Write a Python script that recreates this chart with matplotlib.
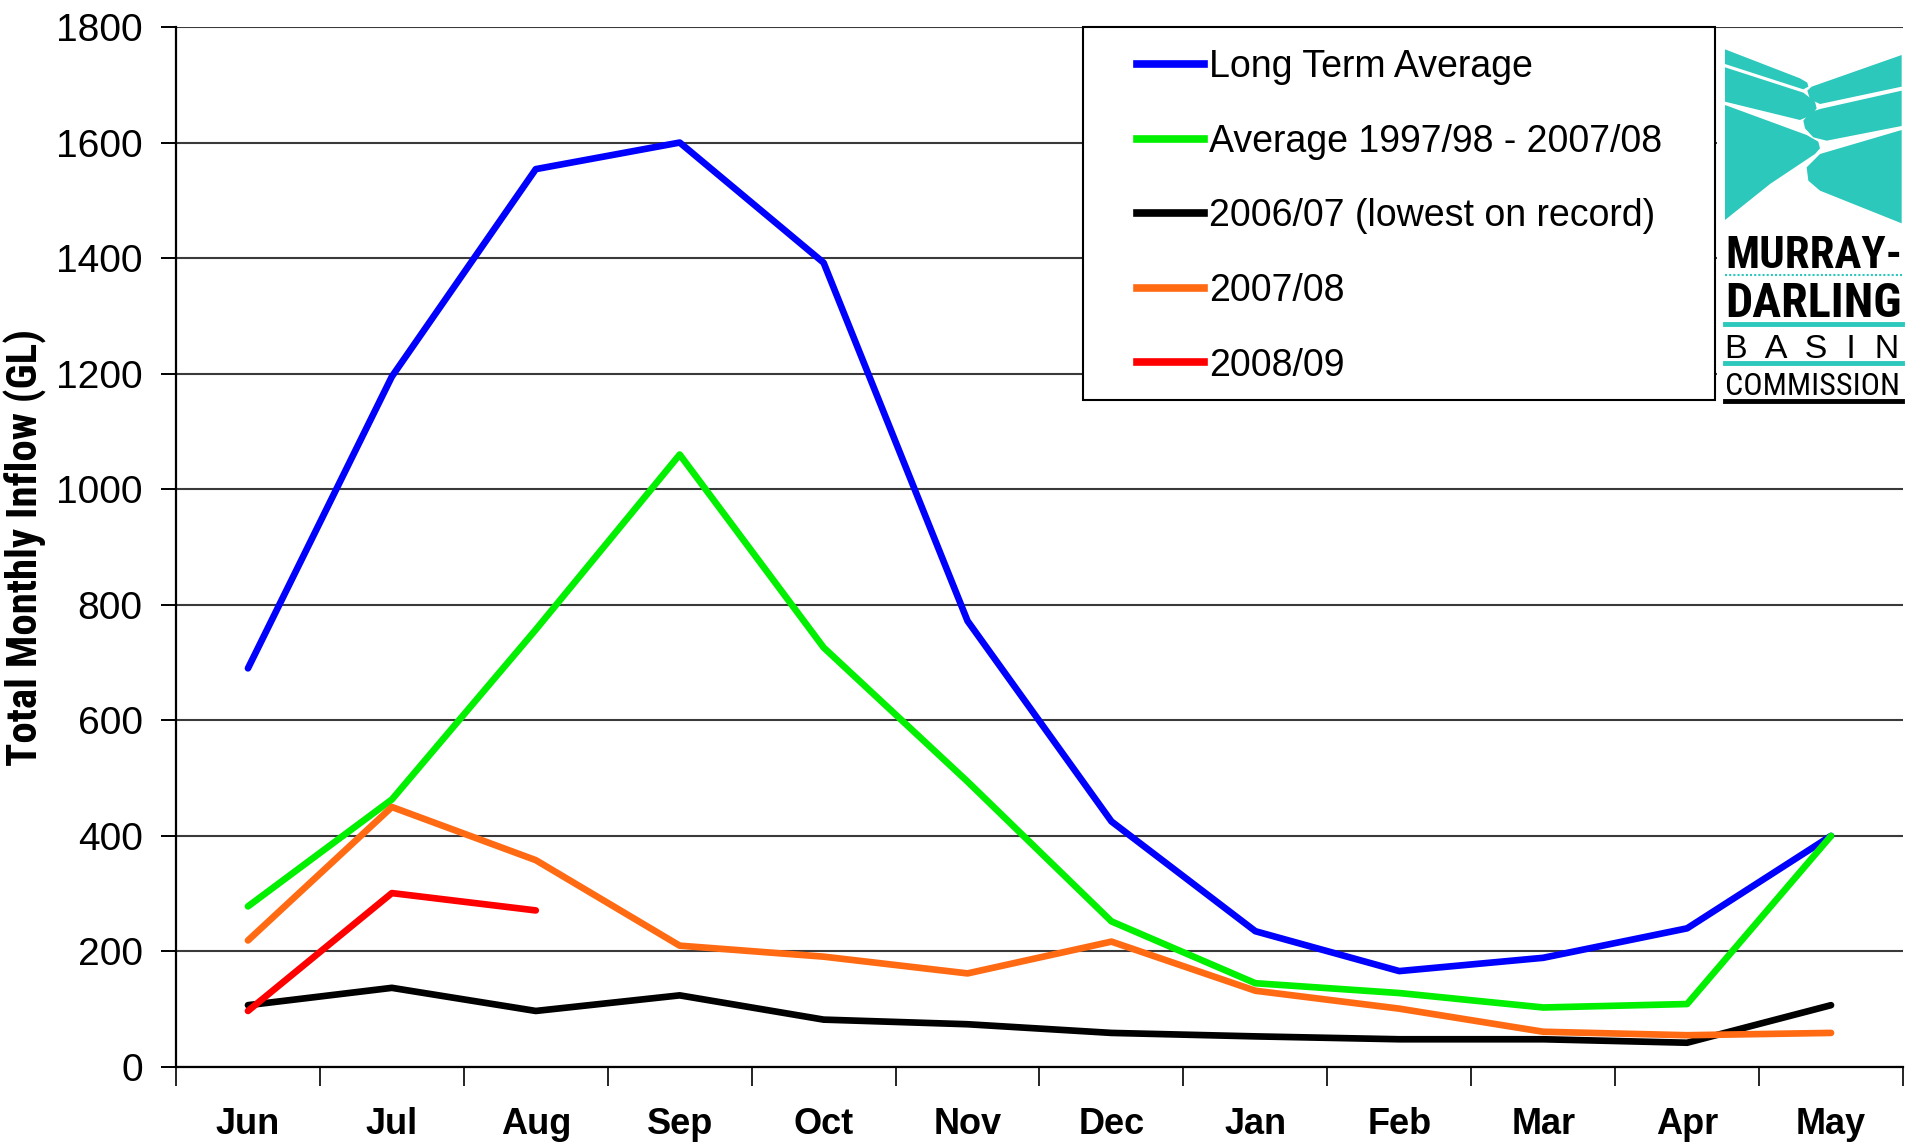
import numpy as np
import matplotlib
matplotlib.use("Agg")
import matplotlib.pyplot as plt
from matplotlib import font_manager
from matplotlib.patches import Rectangle, Polygon
from matplotlib.lines import Line2D

# ---------------- data ----------------
months = ["Jun", "Jul", "Aug", "Sep", "Oct", "Nov", "Dec", "Jan", "Feb", "Mar", "Apr", "May"]
long_term_avg = [690, 1195, 1554, 1600, 1392, 772, 425, 235, 166, 189, 240, 400]
avg_9798_0708 = [278, 463, 757, 1060, 726, 494, 252, 145, 128, 103, 109, 400]
y2006_07 = [107, 137, 97, 124, 82, 74, 59, 53, 48, 48, 42, 107]
y2007_08 = [219, 450, 358, 210, 191, 162, 217, 132, 101, 61, 55, 59]
y2008_09 = [97, 301, 271]
series_labels = ["Long Term Average", "Average 1997/98 - 2007/08",
                 "2006/07 (lowest on record)", "2007/08", "2008/09"]
yticks = list(range(0, 1801, 200))

colors = ["#0000FF", "#00F000", "#000000", "#FF6A13", "#FF0000"]

def has_font(name, stretch="normal"):
    try:
        fp = font_manager.FontProperties(family=name, stretch=stretch)
        font_manager.findfont(fp, fallback_to_default=False)
        return True
    except Exception:
        return False

BASE = "Liberation Sans" if has_font("Liberation Sans") else "DejaVu Sans"
NARROW = BASE
for cand in ["Liberation Sans Narrow", "Roboto Condensed", "Open Sans Condensed", "DejaVu Sans Condensed"]:
    if has_font(cand):
        NARROW = cand
        break
plt.rcParams["font.family"] = [BASE, "DejaVu Sans"]

W, H = 1906, 1143
fig = plt.figure(figsize=(W / 100, H / 100), dpi=100)
fig.patch.set_facecolor("white")

def fx(px):
    return px / W

def fy(py):
    return 1 - py / H

ax_left, ax_right, ax_top, ax_bottom = 176, 1903, 27, 1067
ax = fig.add_axes([fx(ax_left), fy(ax_bottom), fx(ax_right - ax_left), (ax_bottom - ax_top) / H])

x = np.arange(len(months))
series = [long_term_avg, avg_9798_0708, y2006_07, y2007_08, y2008_09]
for vals, c in zip(series, colors):
    ax.plot(x[:len(vals)], vals, color=c, lw=4.8, solid_joinstyle="round", solid_capstyle="round", zorder=3)

ax.set_xlim(-0.5, 11.5)
ax.set_ylim(0, 1800)
ax.set_yticks(yticks)
ax.set_yticklabels([str(v) for v in yticks], fontsize=28)
ax.yaxis.grid(True, color="#3a3a3a", lw=1.5)
ax.set_axisbelow(True)
ax.tick_params(axis="y", direction="out", length=11, width=1.4, pad=13, colors="black")

ax.set_xticks(np.arange(-0.5, 12, 1))
ax.set_xticklabels([])
ax.set_xticks(x, minor=True)
ax.set_xticklabels(months, minor=True, fontsize=26, fontweight="bold")
ax.tick_params(axis="x", which="major", direction="out", length=14, width=1.2)
ax.tick_params(axis="x", which="minor", length=0, pad=29)

for s in ["top", "right"]:
    ax.spines[s].set_visible(False)
ax.spines["left"].set_linewidth(1.6)
ax.spines["bottom"].set_linewidth(1.6)

ylab = ax.set_ylabel("Total Monthly Inflow (GL)", fontsize=28, fontweight="bold", family=[NARROW, BASE])
ax.yaxis.set_label_coords((25 - ax_left) / (ax_right - ax_left), 0.5)
ax.yaxis.label.set_va("center")

# ---------------- legend ----------------
box = Rectangle((fx(1083), fy(400)), fx(1715 - 1083), (400 - 27) / H, transform=fig.transFigure,
                facecolor="white", edgecolor="black", lw=1.5, zorder=3)
fig.patches.append(box)
handles = [Line2D([], [], color=c, lw=5.5) for c in colors]
leg = fig.legend(handles, series_labels, loc="upper left", bbox_to_anchor=(fx(1137), fy(49)),
                 frameon=False, borderpad=0, borderaxespad=0, fontsize=27, labelspacing=1.03,
                 handlelength=1.78, handletextpad=0.15)
leg.set_zorder(5)

# ---------------- logo ----------------
lax = fig.add_axes([fx(1717), fy(410), fx(1906 - 1717), (410 - 34) / H])
lax.set_xlim(-9, 558)
lax.set_ylim(1110, -18)
lax.axis("off")
lax.add_patch(Rectangle((-9, -18), 567, 1128, facecolor="white", edgecolor="none", zorder=0))
teal = "#2BC8BB"
shapes = [
    [(15, 28), (240, 115), (262, 128), (265, 140), (250, 148), (15, 72)],
    [(262, 152), (275, 140), (545, 45), (545, 140), (300, 192), (270, 178)],
    [(15, 82), (250, 158), (285, 185), (290, 205), (275, 225), (240, 240), (15, 185)],
    [(250, 242), (270, 217), (300, 207), (545, 152), (545, 258), (320, 302), (280, 292), (255, 265)],
    [(15, 195), (260, 285), (295, 305), (300, 325), (285, 342), (150, 432), (15, 540)],
    [(300, 342), (545, 270), (545, 550), (300, 452), (265, 422), (260, 382)],
]
for pts in shapes:
    lax.add_patch(Polygon(pts, closed=True, facecolor=teal, edgecolor="none", zorder=2,
                          joinstyle="round"))

lax.plot([15, 545], [705, 705], color=teal, lw=1.5, ls=(0, (1, 1)), zorder=2)
lax.plot([15, 545], [852, 852], color=teal, lw=3.5, zorder=2)
lax.plot([15, 545], [970, 970], color=teal, lw=3.5, zorder=2)
lax.plot([15, 545], [1082, 1082], color="black", lw=3.5, zorder=2)

fig.canvas.draw()
renderer = fig.canvas.get_renderer()

# fit y label length to reference (~438 px)
bb = ylab.get_window_extent(renderer=renderer)
ylab.set_fontsize(28 * 438 / bb.height)

def fit_text(s, x0, x1, ybase, weight="bold", family=NARROW, fs=30):
    t = lax.text(x0, ybase, s, fontsize=fs, fontweight=weight, family=[family, BASE],
                 ha="left", va="baseline", zorder=3, color="black")
    bb = t.get_window_extent(renderer=renderer)
    p0 = lax.transData.transform((x0, ybase))
    p1 = lax.transData.transform((x1, ybase))
    target = p1[0] - p0[0]
    t.set_fontsize(fs * target / bb.width)
    return t

fit_text("MURRAY-", 15, 545, 685)
fit_text("DARLING", 15, 545, 830)
fit_text("B  A  S  I  N", 15, 540, 955, weight="normal", family=BASE)
fit_text("COMMISSION", 15, 540, 1065, weight="normal")

fig.savefig("out.png", dpi=100, facecolor="white")
